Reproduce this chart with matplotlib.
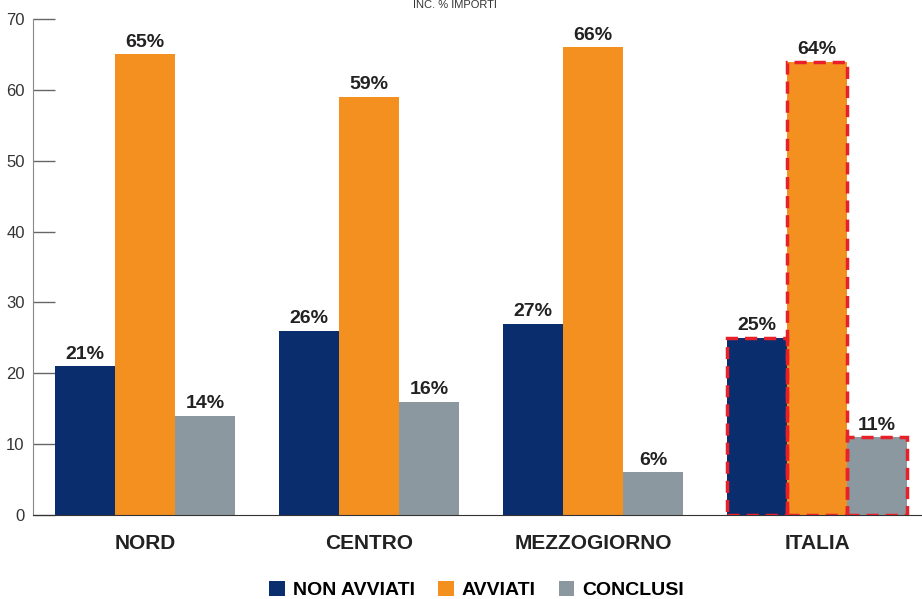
import numpy as np
import matplotlib.pyplot as plt
from matplotlib.patches import Patch

plt.rcParams['font.family'] = ['Liberation Sans Narrow', 'Liberation Sans', 'DejaVu Sans']

categories = ["NORD", "CENTRO", "MEZZOGIORNO", "ITALIA"]
series = ["NON AVVIATI", "AVVIATI", "CONCLUSI"]
non_avviati = [21, 26, 27, 25]
avviati = [65, 59, 66, 64]
conclusi = [14, 16, 6, 11]
colors = ["#0a2d6e", "#f39020", "#8c989f"]
highlight = "ITALIA"

fig = plt.figure(figsize=(9.22, 5.99), dpi=100)
ax = fig.add_axes([33/922, 84/599, 1 - 33/922, (515 - 19)/599])

x = np.arange(len(categories))
w = 60/224
values = [non_avviati, avviati, conclusi]
for i, vals in enumerate(values):
    pos = x + (i - 1) * w
    bars = ax.bar(pos, vals, width=w, color=colors[i], zorder=2)
    for b, v, cat in zip(bars, vals, categories):
        ax.text(b.get_x() + b.get_width()/2, v + 0.5, f"{v}%", ha='center', va='bottom',
                fontsize=14, fontweight='bold', color='#222222')
        if cat == highlight:
            ax.bar(b.get_x() + b.get_width()/2, v, width=w, fill=False, edgecolor='#e8202a',
                   linestyle=(0, (3.5, 2)), linewidth=2.5, zorder=3)

ax.set_xlim(-0.5, (922 - 145)/224)
ax.set_ylim(0, 70)
ax.set_yticks(range(0, 71, 10))
ax.set_xticks(x)
ax.set_xticklabels(categories, fontsize=15, fontweight='bold', color='#222222')
ax.tick_params(axis='x', length=0, pad=14)
ax.tick_params(axis='y', direction='in', length=16, width=1, color='#666666',
               labelsize=12, labelcolor='#333333', pad=6)
for s in ['top', 'right']:
    ax.spines[s].set_visible(False)
ax.spines['left'].set_color('#888888')
ax.spines['bottom'].set_color('#333333')

fig.text(0.493, 1.0, "INC. % IMPORTI", ha='center', va='top', fontsize=8, color='#333333')

handles = [Patch(facecolor=c) for c in colors]
fig.legend(handles, series, loc='lower center', bbox_to_anchor=(0.517, -0.03), ncol=3, frameon=False,
           prop={'weight': 'bold', 'size': 14}, handlelength=0.8, handleheight=0.8,
           handletextpad=0.4, columnspacing=1.2)

fig.savefig("out.png", dpi=100)
